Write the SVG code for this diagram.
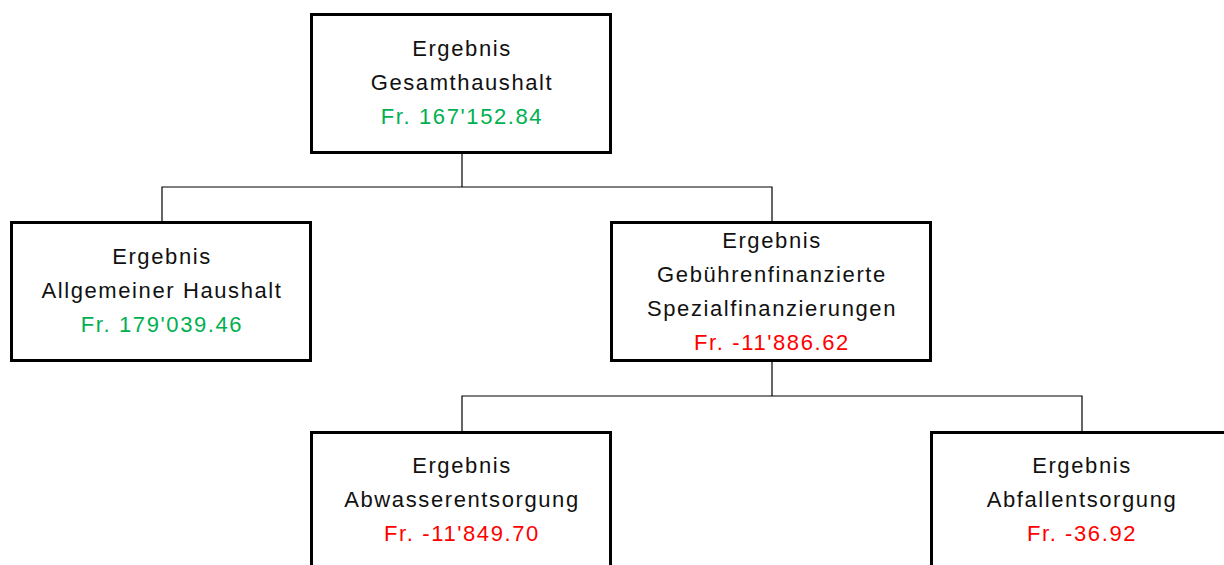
<svg xmlns="http://www.w3.org/2000/svg" width="1224" height="565" viewBox="0 0 1224 565">
<style>
.box{fill:#fff;stroke:#000;stroke-width:3}
.con{fill:none;stroke:#000;stroke-width:1.2}
text{font-family:"Liberation Sans",Arial,sans-serif;font-size:22px;letter-spacing:1.6px;text-anchor:middle;fill:#111}
.pos{fill:#00B050}
.neg{fill:#FF0000}
</style>
<rect width="1224" height="565" fill="#fff"/>
<g id="connectors">
<path class="con" d="M462,154 V187 M162,222 V187 H772 V222"/>
<path class="con" d="M772,362 V396 M462,432 V396 H1082 V432"/>
</g>
<g id="gesamt">
<rect class="box" x="311.5" y="14.5" width="299" height="138"/>
<text x="462" y="56">Ergebnis</text>
<text x="462" y="90">Gesamthaushalt</text>
<text x="462" y="124" class="pos">Fr. 167'152.84</text>
</g>
<g id="allgemein">
<rect class="box" x="11.5" y="222.5" width="299" height="138"/>
<text x="162" y="264">Ergebnis</text>
<text x="162" y="298">Allgemeiner Haushalt</text>
<text x="162" y="332" class="pos">Fr. 179'039.46</text>
</g>
<g id="spezial">
<rect class="box" x="611.5" y="222.5" width="319" height="138"/>
<text x="772" y="248">Ergebnis</text>
<text x="772" y="282">Gebührenfinanzierte</text>
<text x="772" y="316">Spezialfinanzierungen</text>
<text x="772" y="350" class="neg">Fr. -11'886.62</text>
</g>
<g id="abwasser">
<rect class="box" x="311.5" y="432.5" width="299" height="140"/>
<text x="462" y="473">Ergebnis</text>
<text x="462" y="507">Abwasserentsorgung</text>
<text x="462" y="541" class="neg">Fr. -11'849.70</text>
</g>
<g id="abfall">
<rect class="box" x="931.5" y="432.5" width="300" height="140"/>
<text x="1082" y="473">Ergebnis</text>
<text x="1082" y="507">Abfallentsorgung</text>
<text x="1082" y="541" class="neg">Fr. -36.92</text>
</g>
</svg>
